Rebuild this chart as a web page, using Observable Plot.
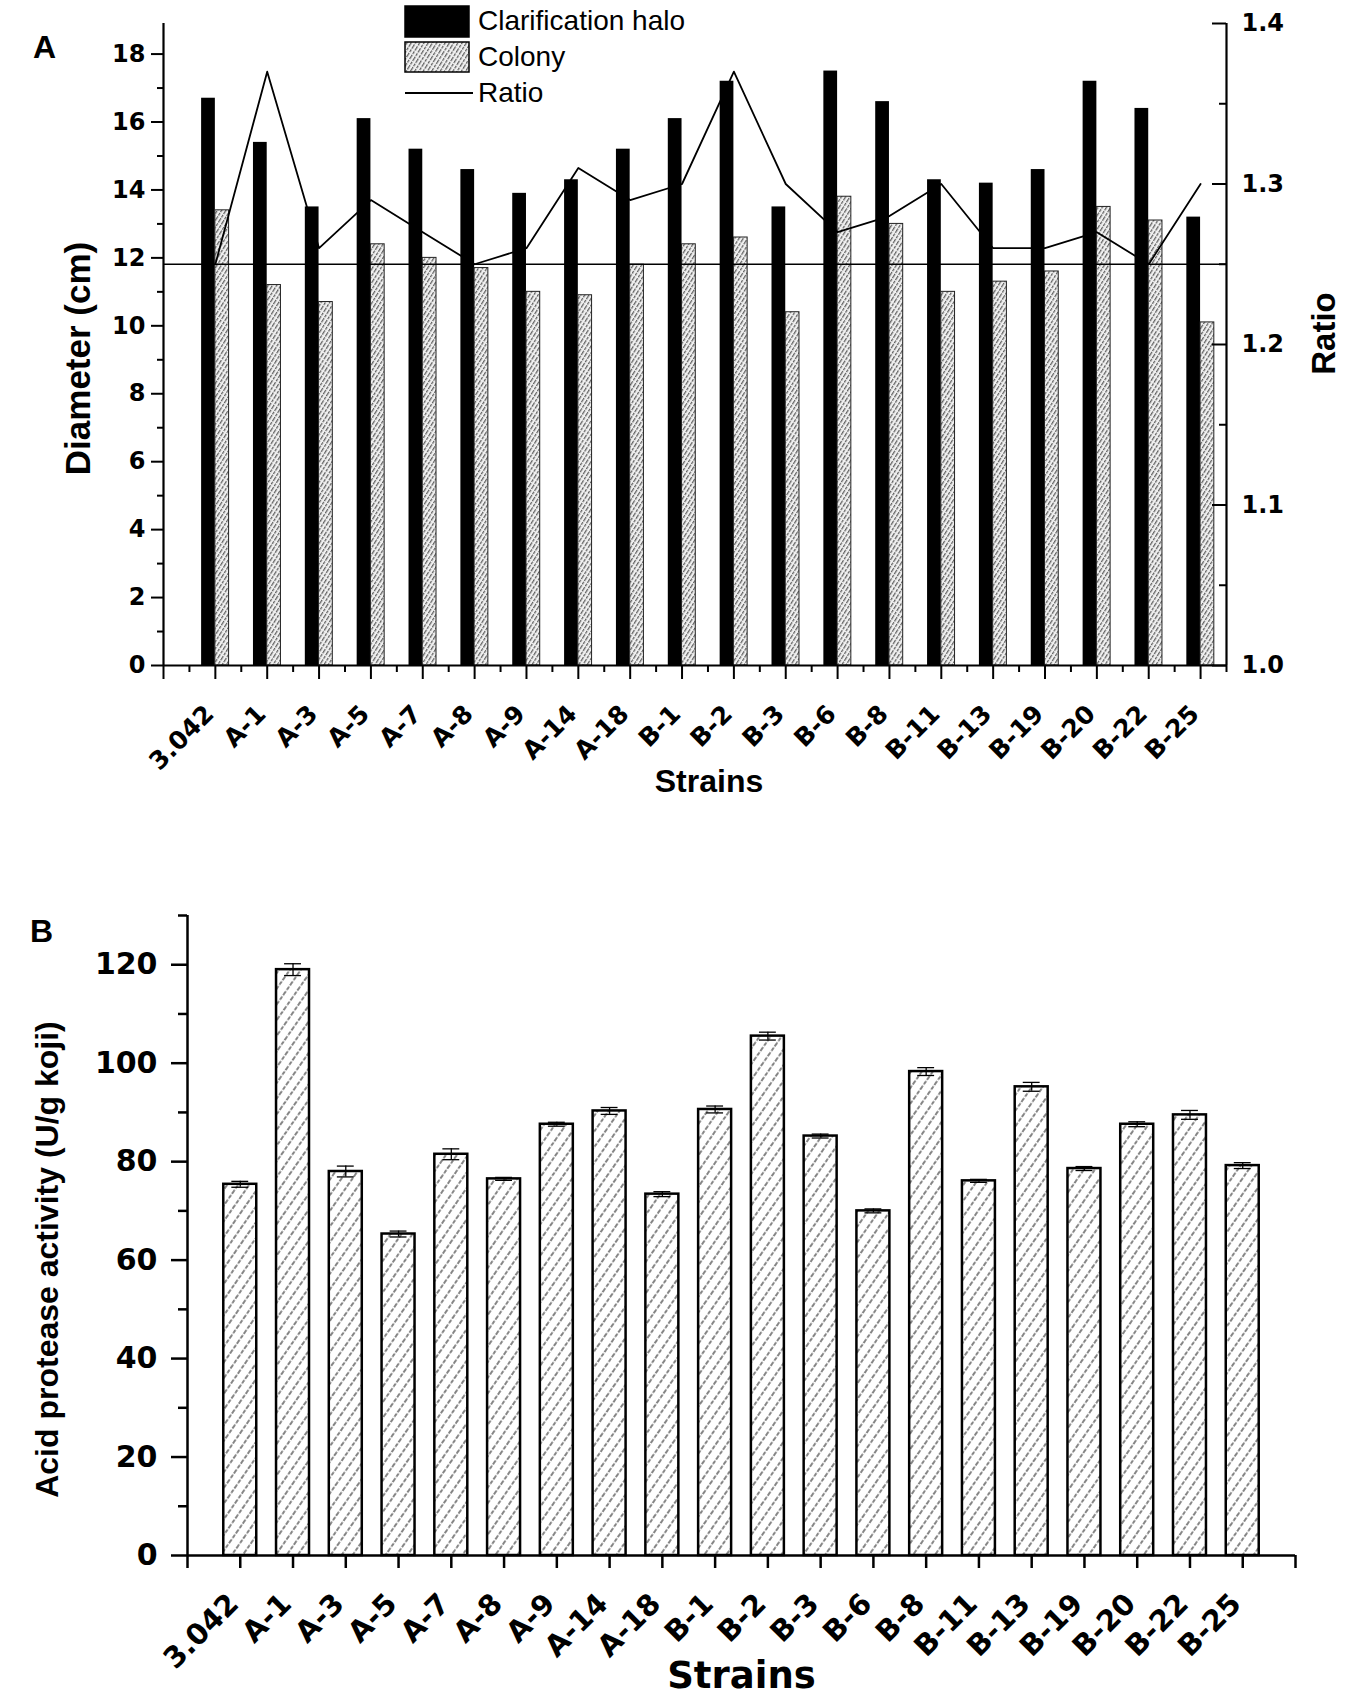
<!DOCTYPE html>
<html>
<head>
<meta charset="utf-8">
<script src="https://cdn.jsdelivr.net/npm/d3@7"></script>
<script src="https://cdn.jsdelivr.net/npm/@observablehq/plot@0.6"></script>
<style>
  html, body { margin: 0; padding: 0; background: #fff; }
  #wrap { position: relative; width: 1350px; height: 1703px; background: #fff; overflow: hidden; }
  #chartA { position: absolute; left: 0; top: 0; }
  #chartB { position: absolute; left: 0; top: 880px; }
  #legend { position: absolute; left: 0; top: 0; }
</style>
</head>
<body>
<svg width="0" height="0" style="position:absolute">
  <defs>
    <pattern id="hatchColony" patternUnits="userSpaceOnUse" width="3.6" height="10" patternTransform="rotate(32)">
      <rect width="3.6" height="10" fill="#f0f0f0"/>
      <line x1="0.7" y1="0" x2="0.7" y2="10" stroke="#333" stroke-width="0.95" stroke-dasharray="3 1"/>
    </pattern>
    <pattern id="hatchB" patternUnits="userSpaceOnUse" width="9" height="12" patternTransform="rotate(35)">
      <rect width="9" height="12" fill="#fff"/>
      <line x1="1" y1="0" x2="1" y2="12" stroke="#222" stroke-width="1.1" stroke-dasharray="4 1.6"/>
    </pattern>
  </defs>
</svg>
<div id="wrap">
  <div id="chartA"></div>
  <div id="chartB"></div>
  <svg id="legend" width="760" height="110" font-family="Liberation Sans, Arial, sans-serif">
    <rect x="405" y="6" width="64" height="31" fill="#000" stroke="#000" stroke-width="1.5"/>
    <text x="478" y="30" font-size="28">Clarification halo</text>
    <rect x="405" y="42" width="64" height="30" fill="url(#hatchColony)" stroke="#000" stroke-width="1.5"/>
    <text x="478" y="66" font-size="28">Colony</text>
    <line x1="405" y1="93" x2="473" y2="93" stroke="#000" stroke-width="2"/>
    <text x="478" y="102" font-size="28">Ratio</text>
  </svg>
</div>
<script>
// ---------- Data ----------
const strains = ["3.042","A-1","A-3","A-5","A-7","A-8","A-9","A-14","A-18","B-1","B-2","B-3","B-6","B-8","B-11","B-13","B-19","B-20","B-22","B-25"];

// Panel A: diameters (cm) and ratio
const halo   = [16.7, 15.4, 13.5, 16.1, 15.2, 14.6, 13.9, 14.3, 15.2, 16.1, 17.2, 13.5, 17.5, 16.6, 14.3, 14.2, 14.6, 17.2, 16.4, 13.2];
const colony = [13.4, 11.2, 10.7, 12.4, 12.0, 11.7, 11.0, 10.9, 11.8, 12.4, 12.6, 10.4, 13.8, 13.0, 11.0, 11.3, 11.6, 13.5, 13.1, 10.1];
const ratio  = [1.25, 1.37, 1.26, 1.29, 1.27, 1.25, 1.26, 1.31, 1.29, 1.30, 1.37, 1.30, 1.27, 1.28, 1.30, 1.26, 1.26, 1.27, 1.25, 1.30];
const ratioRef = 1.25;

const diameterTicks = [0, 2, 4, 6, 8, 10, 12, 14, 16, 18];
const diameterMinor = [1, 3, 5, 7, 9, 11, 13, 15, 17];
const diameterDomain = [0, 18.9];
const ratioTicks = [1.0, 1.1, 1.2, 1.3, 1.4];
const ratioMinor = [1.05, 1.15, 1.25, 1.35];
const ratioDomain = [1.0, 1.4];
const xDomainA = [-1, 19.5];

// Panel B: acid protease activity (U/g koji)
const activity    = [75.4, 119.0, 78.0, 65.3, 81.5, 76.5, 87.6, 90.3, 73.4, 90.6, 105.5, 85.2, 70.0, 98.3, 76.1, 95.2, 78.6, 87.6, 89.5, 79.2];
const activityErr = [0.6, 1.2, 1.1, 0.6, 1.1, 0.3, 0.4, 0.7, 0.5, 0.7, 0.8, 0.4, 0.4, 0.8, 0.3, 0.9, 0.4, 0.5, 0.9, 0.6];
const activityTicks = [0, 20, 40, 60, 80, 100, 120];
const activityMinor = [10, 30, 50, 70, 90, 110, 130];
const activityDomain = [0, 130];
const xDomainB = [-1, 20];

// ---------- Helpers ----------
// map ratio onto the diameter (left) scale for the secondary axis
const r2d = r => (r - ratioDomain[0]) / (ratioDomain[1] - ratioDomain[0]) * diameterDomain[1];
const d2r = d => ratioDomain[0] + d / diameterDomain[1] * (ratioDomain[1] - ratioDomain[0]);

const rowsA = strains.map((s, i) => ({i, strain: s, halo: halo[i], colony: colony[i], ratio: ratio[i]}));
const rowsB = strains.map((s, i) => ({i, strain: s, activity: activity[i], err: activityErr[i]}));

const numFont = "DejaVu Sans, sans-serif";
const txtFont = "Liberation Sans, Arial, sans-serif";
const halfBarA = 0.265;
const halfBarB = 0.3125;
const capB = 0.16;

// ---------- Panel A ----------
const chartA = Plot.plot({
  width: 1350,
  height: 820,
  marginLeft: 163,
  marginRight: 124,
  marginTop: 23,
  marginBottom: 155,
  style: {background: "transparent", color: "black", overflow: "visible"},
  x: {type: "linear", domain: xDomainA},
  y: {domain: diameterDomain},
  marks: [
    Plot.rect(rowsA, {x1: d => d.i - halfBarA, x2: d => d.i, y1: 0, y2: "halo", fill: "black"}),
    Plot.rect(rowsA, {x1: d => d.i, x2: d => d.i + halfBarA, y1: 0, y2: "colony", fill: "url(#hatchColony)", stroke: "#222", strokeWidth: 1}),
    Plot.ruleY([r2d(ratioRef)], {stroke: "black", strokeWidth: 1.6}),
    Plot.line(rowsA, {x: "i", y: d => r2d(d.ratio), stroke: "black", strokeWidth: 1.8}),
    // axis lines
    Plot.ruleX([xDomainA[0]], {stroke: "black", strokeWidth: 2.2}),
    Plot.ruleX([xDomainA[1]], {stroke: "black", strokeWidth: 2.2}),
    Plot.ruleY([0], {stroke: "black", strokeWidth: 2.2}),
    // left axis
    Plot.axisY({ticks: diameterTicks, tickSize: 12, tickPadding: 6, strokeWidth: 2, fontSize: 24, fontWeight: "bold", fontFamily: numFont, label: null}),
    Plot.axisY({ticks: diameterMinor, tickSize: 6, strokeWidth: 2, fill: "none", label: null}),
    // right axis (ratio), inward ticks
    Plot.axisY({anchor: "left", frameAnchor: "right", ticks: ratioTicks.map(r2d), tickSize: 14, strokeWidth: 2, fill: "none", label: null}),
    Plot.axisY({anchor: "left", frameAnchor: "right", ticks: ratioMinor.map(r2d), tickSize: 7, strokeWidth: 2, fill: "none", label: null}),
    Plot.axisY({anchor: "right", ticks: ratioTicks.map(r2d), tickSize: 0, tickPadding: 15, tickFormat: d => d2r(d).toFixed(1), fontSize: 24, fontWeight: "bold", fontFamily: numFont, label: null}),
    // bottom axis ticks
    Plot.axisX({ticks: d3.range(-1, 20), tickSize: 14, strokeWidth: 2, fill: "none", label: null}),
    Plot.axisX({ticks: d3.range(-0.5, 20, 1), tickSize: 7, strokeWidth: 2, fill: "none", label: null}),
    Plot.text(rowsA, {x: "i", text: "strain", frameAnchor: "bottom", dy: 50, dx: 0, rotate: -45, textAnchor: "end", fontSize: 25, fontWeight: "bold", fontFamily: numFont}),
    // titles
    Plot.text(["Strains"], {frameAnchor: "bottom", dy: 126, dx: 14, textAnchor: "middle", fontSize: 32, fontWeight: "bold", fontFamily: txtFont}),
    Plot.text(["Diameter (cm)"], {frameAnchor: "left", dx: -85, dy: 14, rotate: -90, textAnchor: "middle", fontSize: 35, fontWeight: "bold", fontFamily: txtFont}),
    Plot.text(["Ratio"], {frameAnchor: "right", dx: 98, dy: -11, rotate: -90, textAnchor: "middle", fontSize: 33, fontWeight: "bold", fontFamily: txtFont}),
    Plot.text(["A"], {frameAnchor: "top-left", dx: -119, dy: 12, textAnchor: "middle", fontSize: 32, fontWeight: "bold", fontFamily: txtFont})
  ]
});
document.getElementById("chartA").appendChild(chartA);

// ---------- Panel B ----------
const chartB = Plot.plot({
  width: 1350,
  height: 823,
  marginLeft: 187,
  marginRight: 55,
  marginTop: 35,
  marginBottom: 148,
  style: {background: "transparent", color: "black", overflow: "visible"},
  x: {type: "linear", domain: xDomainB},
  y: {domain: activityDomain},
  marks: [
    Plot.rect(rowsB, {x1: d => d.i - halfBarB, x2: d => d.i + halfBarB, y1: 0, y2: "activity", fill: "url(#hatchB)", stroke: "black", strokeWidth: 2.5}),
    Plot.ruleX(rowsB, {x: "i", y1: d => d.activity - d.err, y2: d => d.activity + d.err, stroke: "black", strokeWidth: 1.3}),
    Plot.ruleY(rowsB, {y: d => d.activity + d.err, x1: d => d.i - capB, x2: d => d.i + capB, stroke: "black", strokeWidth: 1.3}),
    Plot.ruleY(rowsB, {y: d => d.activity - d.err, x1: d => d.i - capB, x2: d => d.i + capB, stroke: "black", strokeWidth: 1.3}),
    // axis lines
    Plot.ruleX([xDomainB[0]], {stroke: "black", strokeWidth: 2.5}),
    Plot.ruleY([0], {stroke: "black", strokeWidth: 2.5}),
    Plot.axisY({ticks: activityTicks, tickSize: 16, tickPadding: 14, strokeWidth: 2.5, fontSize: 30, fontWeight: "bold", fontFamily: numFont, label: null}),
    Plot.axisY({ticks: activityMinor, tickSize: 9, strokeWidth: 2.5, fill: "none", label: null}),
    Plot.axisX({ticks: d3.range(-1, 21), tickSize: 13, strokeWidth: 2.5, fill: "none", label: null}),
    Plot.text(rowsB, {x: "i", text: "strain", frameAnchor: "bottom", dy: 50, dx: 0, rotate: -45, textAnchor: "end", fontSize: 29, fontWeight: "bold", fontFamily: numFont}),
    Plot.text(["Strains"], {frameAnchor: "bottom", dy: 132, dx: 0, textAnchor: "middle", fontSize: 37, fontWeight: "bold", fontFamily: numFont}),
    Plot.text(["Acid protease activity (U/g koji)"], {frameAnchor: "left", dx: -140, dy: 24, rotate: -90, textAnchor: "middle", fontSize: 32, fontWeight: "bold", fontFamily: txtFont}),
    Plot.text(["B"], {frameAnchor: "top-left", dx: -146, dy: 4, textAnchor: "middle", fontSize: 32, fontWeight: "bold", fontFamily: txtFont})
  ]
});
document.getElementById("chartB").appendChild(chartB);
</script>
</body>
</html>
